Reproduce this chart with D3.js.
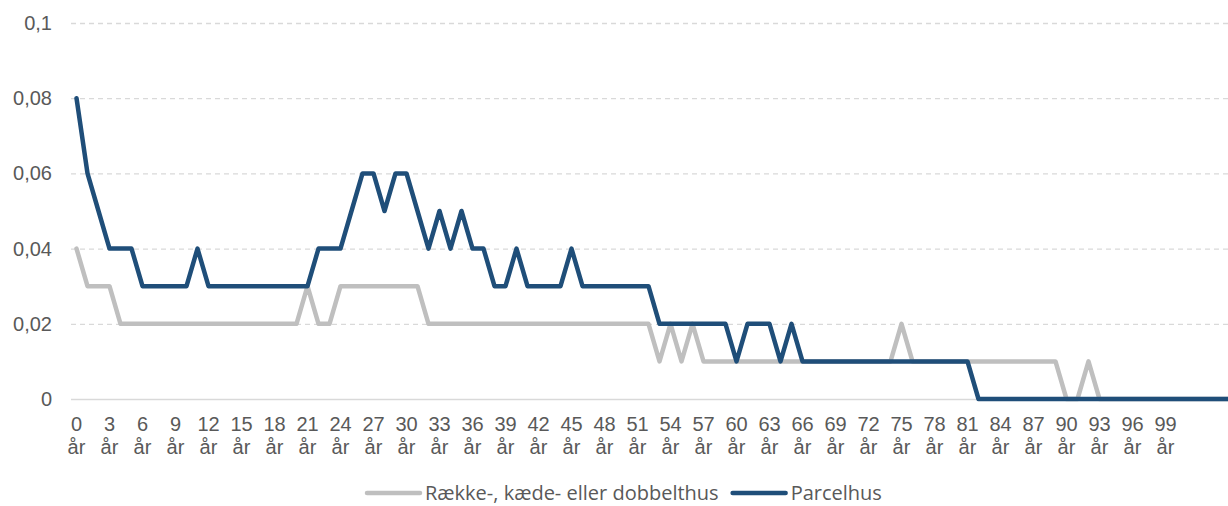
<!DOCTYPE html>
<html>
<head>
<meta charset="utf-8">
<script src="https://cdn.jsdelivr.net/npm/d3@7"></script>
<style>
  body { margin: 0; background: #fff; }
  svg { display: block; }
</style>
</head>
<body>
<div id="chart"></div>
<script>
// categories: age in years, 0..105
var ages = d3.range(0, 106);
var tickAges = [0, 3, 6, 9, 12, 15, 18, 21, 24, 27, 30, 33, 36, 39, 42, 45, 48, 51, 54, 57, 60, 63, 66, 69, 72, 75, 78, 81, 84, 87, 90, 93, 96, 99];
var yTicks = [0, 0.02, 0.04, 0.06, 0.08, 0.1];

var raekke = [
  0.04, 0.03, 0.03, 0.03, 0.02, 0.02, 0.02, 0.02, 0.02, 0.02,
  0.02, 0.02, 0.02, 0.02, 0.02, 0.02, 0.02, 0.02, 0.02, 0.02,
  0.02, 0.03, 0.02, 0.02, 0.03, 0.03, 0.03, 0.03, 0.03, 0.03,
  0.03, 0.03, 0.02, 0.02, 0.02, 0.02, 0.02, 0.02, 0.02, 0.02,
  0.02, 0.02, 0.02, 0.02, 0.02, 0.02, 0.02, 0.02, 0.02, 0.02,
  0.02, 0.02, 0.02, 0.01, 0.02, 0.01, 0.02, 0.01, 0.01, 0.01,
  0.01, 0.01, 0.01, 0.01, 0.01, 0.01, 0.01, 0.01, 0.01, 0.01,
  0.01, 0.01, 0.01, 0.01, 0.01, 0.02, 0.01, 0.01, 0.01, 0.01,
  0.01, 0.01, 0.01, 0.01, 0.01, 0.01, 0.01, 0.01, 0.01, 0.01,
  0, 0, 0.01, 0, 0, 0, 0, 0, 0, 0,
  0, 0, 0, 0, 0, 0
];

var parcel = [
  0.08, 0.06, 0.05, 0.04, 0.04, 0.04, 0.03, 0.03, 0.03, 0.03,
  0.03, 0.04, 0.03, 0.03, 0.03, 0.03, 0.03, 0.03, 0.03, 0.03,
  0.03, 0.03, 0.04, 0.04, 0.04, 0.05, 0.06, 0.06, 0.05, 0.06,
  0.06, 0.05, 0.04, 0.05, 0.04, 0.05, 0.04, 0.04, 0.03, 0.03,
  0.04, 0.03, 0.03, 0.03, 0.03, 0.04, 0.03, 0.03, 0.03, 0.03,
  0.03, 0.03, 0.03, 0.02, 0.02, 0.02, 0.02, 0.02, 0.02, 0.02,
  0.01, 0.02, 0.02, 0.02, 0.01, 0.02, 0.01, 0.01, 0.01, 0.01,
  0.01, 0.01, 0.01, 0.01, 0.01, 0.01, 0.01, 0.01, 0.01, 0.01,
  0.01, 0.01, 0, 0, 0, 0, 0, 0, 0, 0,
  0, 0, 0, 0, 0, 0, 0, 0, 0, 0,
  0, 0, 0, 0, 0, 0
];

var series = [
  { name: "Række-, kæde- eller dobbelthus", values: raekke, color: "#BFBFBF" },
  { name: "Parcelhus", values: parcel, color: "#1F4E79" }
];

var width = 1228, height = 506;
var plotLeft = 71, plotTop = 23, plotBottom = 399;

var svg = d3.select("#chart").append("svg")
  .attr("width", width)
  .attr("height", height);

var x = d3.scaleBand()
  .domain(ages)
  .range([plotLeft, plotLeft + ages.length * 11]);

var y = d3.scaleLinear()
  .domain([0, 0.1])
  .range([plotBottom, plotTop]);

var fmt = function(v) { return String(+v.toFixed(2)).replace(".", ","); };

// gridlines
svg.append("g")
  .selectAll("line")
  .data(yTicks)
  .enter().append("line")
  .attr("x1", plotLeft)
  .attr("x2", width)
  .attr("y1", function(d) { return y(d) + 0.5; })
  .attr("y2", function(d) { return y(d) + 0.5; })
  .attr("stroke", "#D9D9D9")
  .attr("stroke-width", 1.3)
  .attr("stroke-dasharray", function(d) { return d === 0 ? null : "5,4"; });

// y axis labels
var yAxis = svg.append("g")
  .attr("transform", "translate(52,0)")
  .call(d3.axisLeft(y).tickValues(yTicks).tickFormat(fmt).tickSize(0).tickPadding(0));
yAxis.select(".domain").remove();
yAxis.selectAll("text")
  .attr("font-family", "Liberation Sans, Arial, sans-serif")
  .attr("font-size", 20)
  .attr("fill", "#595959");

// x axis labels (two lines: number, "år")
var xAxis = svg.append("g")
  .attr("transform", "translate(0," + plotBottom + ")")
  .call(d3.axisBottom(x).tickValues(tickAges).tickSize(0).tickFormat(""));
xAxis.select(".domain").remove();
xAxis.selectAll(".tick text").remove();
var ticks = xAxis.selectAll(".tick");
ticks.append("text")
  .attr("y", 32)
  .attr("text-anchor", "middle")
  .attr("font-family", "Liberation Sans, Arial, sans-serif")
  .attr("font-size", 20)
  .attr("fill", "#595959")
  .text(function(d) { return d; });
ticks.append("text")
  .attr("y", 55)
  .attr("text-anchor", "middle")
  .attr("font-family", "Liberation Sans, Arial, sans-serif")
  .attr("font-size", 20)
  .attr("fill", "#595959")
  .text("år");

// lines
var line = d3.line()
  .x(function(d, i) { return x(ages[i]) + x.bandwidth() / 2; })
  .y(function(d) { return y(d); });

svg.append("g")
  .selectAll("path")
  .data(series)
  .enter().append("path")
  .attr("d", function(s) { return line(s.values); })
  .attr("fill", "none")
  .attr("stroke", function(s) { return s.color; })
  .attr("stroke-width", 4.5)
  .attr("stroke-linejoin", "round")
  .attr("stroke-linecap", "round");

// legend
var legend = svg.append("g");
var lx = 0;
series.forEach(function(s) {
  var item = legend.append("g").attr("transform", "translate(" + lx + ",0)");
  item.append("line")
    .attr("x1", 0).attr("x2", 53)
    .attr("y1", 0).attr("y2", 0)
    .attr("stroke", s.color)
    .attr("stroke-width", 4.5)
    .attr("stroke-linecap", "round");
  var t = item.append("text")
    .attr("x", 58)
    .attr("dy", "0.35em")
    .attr("font-family", "Open Sans, sans-serif")
    .attr("font-size", 20)
    .attr("fill", "#595959")
    .text(s.name);
  lx += 58 + t.node().getComputedTextLength() + 14;
});
legend.attr("transform", "translate(367,493)");
</script>
</body>
</html>
